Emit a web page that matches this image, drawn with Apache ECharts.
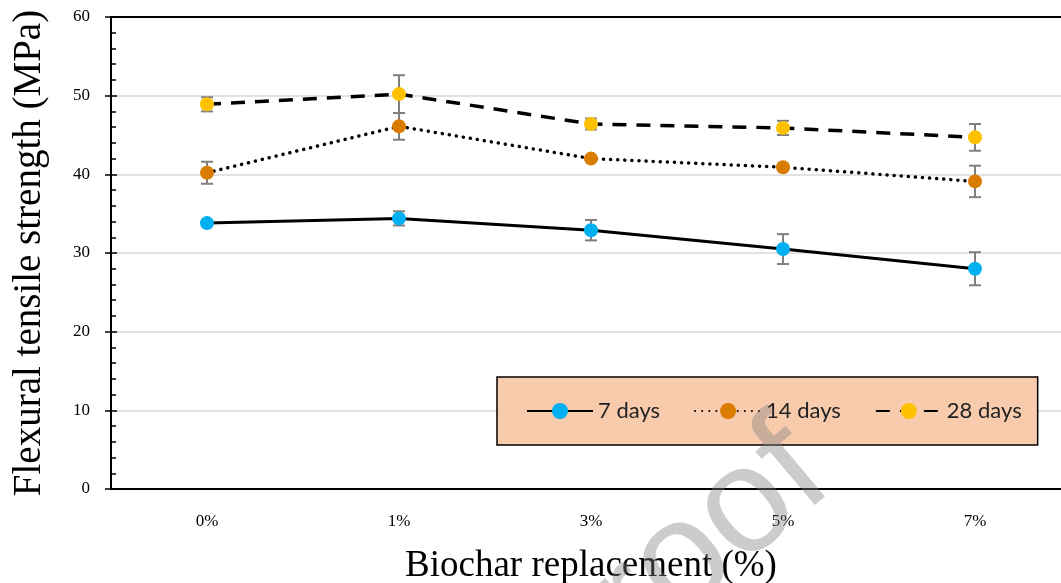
<!DOCTYPE html>
<html>
<head>
<meta charset="utf-8">
<script src="https://cdn.jsdelivr.net/npm/echarts@6/dist/echarts.min.js"></script>
<style>html,body{margin:0;padding:0;background:#fff;}#c{width:1061px;height:583px;}</style>
</head>
<body>
<div id="c"></div>
<script>
const categories = ['0%', '1%', '3%', '5%', '7%'];
const days7 = [33.8, 34.4, 32.9, 30.5, 28.0];
const days14 = [40.2, 46.1, 42.0, 40.9, 39.1];
const days28 = [48.9, 50.2, 46.4, 45.9, 44.7];
const err7 = [0.3, 0.9, 1.3, 1.9, 2.1];
const err14 = [1.4, 1.7, 0.3, 0.3, 2.0];
const err28 = [0.9, 2.4, 0.7, 0.9, 1.7];
const yTicks = [0, 10, 20, 30, 40, 50, 60];

const errData = [];
[[days7, err7], [days14, err14], [days28, err28]].forEach(function (pair) {
  pair[0].forEach(function (v, i) {
    errData.push([i, v - pair[1][i], v + pair[1][i]]);
  });
});

const serif = '"Liberation Serif", "Times New Roman", serif';
const chart = echarts.init(document.getElementById('c'), null, {renderer: 'canvas'});
chart.setOption({
  backgroundColor: '#fff',
  animation: false,
  grid: {left: 111, top: 17, width: 960, height: 472, containLabel: false, outerBoundsMode: 'none'},
  legend: {
    data: ['7 days', '14 days', '28 days'],
    left: 497, top: 377,
    padding: [23, 16, 23, 29],
    itemGap: 34,
    itemWidth: 66, itemHeight: 20,
    backgroundColor: '#f8cbad',
    borderColor: '#000', borderWidth: 1.5,
    textStyle: {fontFamily: 'Lato', fontSize: 22, color: '#222'}
  },
  xAxis: [
    {
      type: 'category', data: categories, position: 'bottom',
      axisLine: {onZero: false, lineStyle: {color: '#000', width: 2}},
      axisTick: {alignWithLabel: true, inside: true, length: 6, lineStyle: {color: '#000', width: 1.5}},
      axisLabel: {fontFamily: serif, fontSize: 17, color: '#000', margin: 24},
      splitLine: {show: false},
      name: 'Biochar replacement (%)', nameLocation: 'middle', nameGap: 59,
      nameTextStyle: {fontFamily: serif, fontSize: 37, color: '#000'}
    },
    {
      type: 'category', data: categories, position: 'bottom',
      axisLine: {show: false, onZero: false},
      axisTick: {alignWithLabel: true, inside: false, length: 6, lineStyle: {color: '#000', width: 1.5}},
      axisLabel: {show: false}, splitLine: {show: false}
    },
    {
      type: 'category', data: categories, position: 'top',
      axisLine: {onZero: false, lineStyle: {color: '#000', width: 2}},
      axisTick: {show: false}, axisLabel: {show: false}, splitLine: {show: false}
    }
  ],
  yAxis: [
    {
      type: 'value', min: yTicks[0], max: yTicks[yTicks.length - 1], interval: 10, position: 'left',
      axisLine: {show: true, onZero: false, lineStyle: {color: '#000', width: 2}},
      axisTick: {show: true, inside: true, length: 6, lineStyle: {color: '#000', width: 1.5}},
      minorTick: {show: true, splitNumber: 5, length: 5, lineStyle: {color: '#000', width: 1.5}},
      axisLabel: {fontFamily: serif, fontSize: 17, color: '#000', margin: 21},
      splitLine: {show: true, lineStyle: {color: '#d9d9d9', width: 1.5}},
      name: 'Flexural tensile strength (MPa)', nameLocation: 'middle', nameGap: 62,
      nameTextStyle: {fontFamily: serif, fontSize: 39, color: '#000'}
    },
    {
      type: 'value', min: yTicks[0], max: yTicks[yTicks.length - 1], interval: 10, position: 'left',
      axisLine: {show: false, onZero: false},
      axisTick: {show: true, inside: false, length: 6, lineStyle: {color: '#000', width: 1.5}},
      axisLabel: {show: false}, splitLine: {show: false}
    }
  ],
  series: [
    {
      type: 'custom', name: 'err', xAxisIndex: 0, yAxisIndex: 0, z: 1,
      data: errData, silent: true,
      renderItem: function (params, api) {
        const x = api.value(0);
        const lo = api.coord([x, api.value(1)]);
        const hi = api.coord([x, api.value(2)]);
        const w = 6;
        const st = {stroke: '#7f7f7f', lineWidth: 2};
        return {type: 'group', children: [
          {type: 'line', shape: {x1: lo[0], y1: lo[1], x2: hi[0], y2: hi[1]}, style: st},
          {type: 'line', shape: {x1: lo[0] - w, y1: lo[1], x2: lo[0] + w, y2: lo[1]}, style: st},
          {type: 'line', shape: {x1: hi[0] - w, y1: hi[1], x2: hi[0] + w, y2: hi[1]}, style: st}
        ]};
      }
    },
    {
      type: 'line', name: '7 days', data: days7, z: 3,
      symbol: 'circle', symbolSize: 14,
      itemStyle: {color: '#00b0f0'},
      lineStyle: {color: '#000', width: 3, type: 'solid'}
    },
    {
      type: 'line', name: '14 days', data: days14, z: 3,
      symbol: 'circle', symbolSize: 14,
      itemStyle: {color: '#d97c00'},
      lineStyle: {color: '#000', width: 3.5, type: [0.1, 7], cap: 'round'}
    },
    {
      type: 'line', name: '28 days', data: days28, z: 3,
      symbol: 'circle', symbolSize: 14,
      itemStyle: {color: '#ffc000'},
      lineStyle: {color: '#000', width: 3.5, type: [14, 10]}
    }
  ],
  graphic: [
    {
      type: 'text', x: 810, y: 455, rotation: 0.70, silent: true, z: 100,
      style: {
        text: 'Journal Pre-proof',
        font: '150px "Liberation Sans", Arial, sans-serif',
        fill: 'rgba(128,128,128,0.40)',
        align: 'right', verticalAlign: 'middle'
      }
    }
  ]
});
</script>
</body>
</html>
